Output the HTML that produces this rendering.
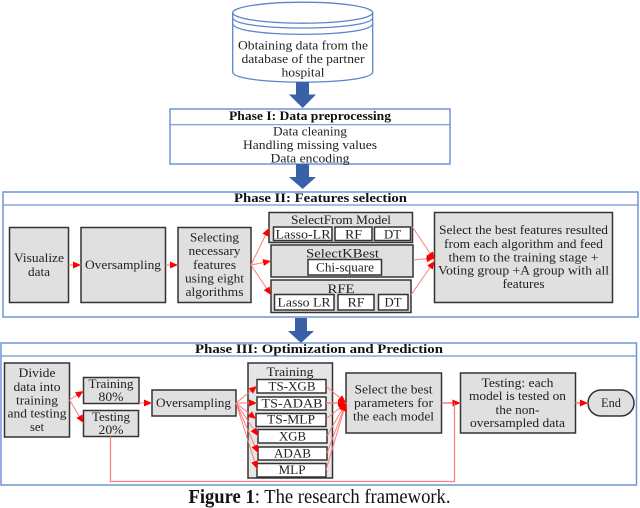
<!DOCTYPE html>
<html><head><meta charset="utf-8"><style>
html,body{margin:0;padding:0;background:#fff;width:640px;height:508px;overflow:hidden}
svg{display:block;filter:blur(.35px)}
text{font-family:"Liberation Serif",serif;font-size:13px;fill:#222;text-anchor:middle}
.h{font-weight:bold;fill:#111}
.p{fill:#fff;stroke:#6f94d8;stroke-width:1.5}
.b{fill:#e0e0e0;stroke:#333;stroke-width:1.5}
.w{fill:#fff;stroke:#333;stroke-width:1.5}
.r{stroke:#ff7a7a;stroke-width:1;fill:none;marker-end:url(#m)}
.n{stroke:#ff7a7a;stroke-width:1;fill:none}
.a{fill:#3a60a8}
</style></head><body>
<svg width="640" height="508" viewBox="0 0 640 508" xmlns="http://www.w3.org/2000/svg">
<defs><marker id="m" markerUnits="userSpaceOnUse" markerWidth="9" markerHeight="8" refX="8" refY="3.5" orient="auto"><path d="M0,0 L8,3.5 L0,7 Z" fill="#f00"/></marker></defs>

<!-- database -->
<path d="M232.700,12.700 V72 C232.700,85.500 372.700,85.500 372.700,72 V12.700" fill="#fff" stroke="#5a84cc" stroke-width="1.300"/>
<ellipse cx="302.700" cy="12.700" rx="70" ry="10.500" fill="#fff" stroke="#5a84cc" stroke-width="1.300"/>
<path d="M232.700,17.500 C232.700,31.500 372.700,31.500 372.700,17.500 M232.700,23.500 C232.700,38 372.700,38 372.700,23.500" fill="none" stroke="#5a84cc" stroke-width="1.300"/>
<text x="303" y="49.700" textLength="130" lengthAdjust="spacingAndGlyphs">Obtaining data from the</text>
<text x="303" y="63" textLength="123" lengthAdjust="spacingAndGlyphs">database of the partner</text>
<text x="303" y="76.300" textLength="43" lengthAdjust="spacingAndGlyphs">hospital</text>

<path class="a" d="M296,82 H309 V94.500 H316 L302.700,108 L289,94.500 H296 Z"/>

<!-- phase I -->
<rect class="p" x="170" y="109" width="280" height="55"/>
<path d="M170,124.700 H450" stroke="#6f94d8" stroke-width="1.200"/>
<text class="h" x="310" y="120" textLength="162" lengthAdjust="spacingAndGlyphs">Phase I: Data preprocessing</text>
<text x="310" y="135.700" textLength="74" lengthAdjust="spacingAndGlyphs">Data cleaning</text>
<text x="310" y="149" textLength="134" lengthAdjust="spacingAndGlyphs">Handling missing values</text>
<text x="310" y="162.300" textLength="79" lengthAdjust="spacingAndGlyphs">Data encoding</text>

<path class="a" d="M296,164 H309 V177 H316 L302.700,189 L289,177 H296 Z"/>

<!-- phase II -->
<rect class="p" x="3" y="192" width="635" height="125"/>
<path d="M3,205 H638" stroke="#6f94d8" stroke-width="1.200"/>
<text class="h" x="320.500" y="202" textLength="173" lengthAdjust="spacingAndGlyphs">Phase II: Features selection</text>

<rect class="b" x="9.500" y="227.500" width="59" height="75"/>
<text x="39" y="262" textLength="50" lengthAdjust="spacingAndGlyphs">Visualize</text>
<text x="39" y="276" textLength="22" lengthAdjust="spacingAndGlyphs">data</text>
<rect class="b" x="81" y="227.500" width="84.500" height="75"/>
<text x="123" y="269" textLength="76" lengthAdjust="spacingAndGlyphs">Oversampling</text>
<rect class="b" x="178" y="227.500" width="73" height="75"/>
<text x="214.500" y="241.500" textLength="49" lengthAdjust="spacingAndGlyphs">Selecting</text>
<text x="214.500" y="255" textLength="52" lengthAdjust="spacingAndGlyphs">necessary</text>
<text x="214.500" y="269" textLength="43" lengthAdjust="spacingAndGlyphs">features</text>
<text x="214.500" y="282.500" textLength="59" lengthAdjust="spacingAndGlyphs">using eight</text>
<text x="214.500" y="296" textLength="58" lengthAdjust="spacingAndGlyphs">algorithms</text>

<rect class="b" x="269" y="212.500" width="143.500" height="30"/>
<text x="341" y="224" textLength="100" lengthAdjust="spacingAndGlyphs">SelectFrom Model</text>
<rect class="w" x="273.500" y="227" width="58.500" height="13.500"/>
<rect class="w" x="335" y="227" width="37" height="13.500"/>
<rect class="w" x="374.500" y="227" width="36" height="13.500"/>
<text x="303" y="238.500" textLength="55" lengthAdjust="spacingAndGlyphs">Lasso-LR</text>
<text x="353.500" y="238.500" textLength="17" lengthAdjust="spacingAndGlyphs">RF</text>
<text x="392.500" y="238.500" textLength="17" lengthAdjust="spacingAndGlyphs">DT</text>

<rect class="b" x="271" y="245" width="142" height="32"/>
<text x="342.500" y="257.500" textLength="73" lengthAdjust="spacingAndGlyphs">SelectKBest</text>
<rect class="w" x="308" y="259.500" width="73.500" height="15.500"/>
<text x="345" y="271.500" textLength="58" lengthAdjust="spacingAndGlyphs">Chi-square</text>

<rect class="b" x="271" y="280" width="140" height="32.500"/>
<text x="341" y="293" textLength="27" lengthAdjust="spacingAndGlyphs">RFE</text>
<rect class="w" x="274.500" y="294.500" width="59.500" height="15.500"/>
<rect class="w" x="338" y="294.500" width="36" height="15.500"/>
<rect class="w" x="378.500" y="294.500" width="29.500" height="15.500"/>
<text x="304" y="306.500" textLength="53" lengthAdjust="spacingAndGlyphs">Lasso LR</text>
<text x="356" y="306.500" textLength="17" lengthAdjust="spacingAndGlyphs">RF</text>
<text x="393" y="306.500" textLength="17" lengthAdjust="spacingAndGlyphs">DT</text>

<rect class="b" x="434.500" y="212.500" width="178" height="90"/>
<text x="523.500" y="234" textLength="169" lengthAdjust="spacingAndGlyphs">Select the best features resulted</text>
<text x="523.500" y="248" textLength="159" lengthAdjust="spacingAndGlyphs">from each algorithm and feed</text>
<text x="523.500" y="261.500" textLength="150" lengthAdjust="spacingAndGlyphs">them to the training stage  +</text>
<text x="523.500" y="274.500" textLength="171" lengthAdjust="spacingAndGlyphs">Voting group +A  group with all</text>
<text x="523.500" y="288" textLength="42" lengthAdjust="spacingAndGlyphs">features</text>

<path class="r" d="M68.500,265 H81"/>
<path class="r" d="M165.500,265 H178"/>
<path class="r" d="M251,265 L269,228"/>
<path class="r" d="M251,265 L271,261"/>
<path class="r" d="M251,265 L271,295"/>
<path class="r" d="M412.500,227 L434.500,260"/>
<path class="r" d="M413,260 L434.500,258"/>
<path class="r" d="M411,295 L434.500,261"/>

<path class="a" d="M295,318 H307 V331 H314 L301,343 L288,331 H295 Z"/>

<!-- phase III -->
<rect class="p" x="1" y="343" width="635.500" height="142"/>
<path d="M1,356 H636" stroke="#6f94d8" stroke-width="1.200"/>
<text class="h" x="319" y="353" textLength="248" lengthAdjust="spacingAndGlyphs">Phase III: Optimization and Prediction</text>

<rect class="b" x="4.500" y="363" width="65" height="74"/>
<text x="37" y="377" textLength="37" lengthAdjust="spacingAndGlyphs">Divide</text>
<text x="37" y="391" textLength="47" lengthAdjust="spacingAndGlyphs">data into</text>
<text x="37" y="404.500" textLength="42" lengthAdjust="spacingAndGlyphs">training</text>
<text x="37" y="417.500" textLength="59" lengthAdjust="spacingAndGlyphs">and testing</text>
<text x="37" y="431" textLength="14" lengthAdjust="spacingAndGlyphs">set</text>

<rect class="b" x="83.500" y="377.500" width="55.500" height="26"/>
<text x="111" y="388" textLength="45" lengthAdjust="spacingAndGlyphs">Training</text>
<text x="111" y="401" textLength="25" lengthAdjust="spacingAndGlyphs">80%</text>
<rect class="b" x="83.500" y="410.500" width="55" height="26"/>
<text x="111" y="421" textLength="38" lengthAdjust="spacingAndGlyphs">Testing</text>
<text x="111" y="434" textLength="25" lengthAdjust="spacingAndGlyphs">20%</text>

<rect class="b" x="152" y="390" width="84" height="26"/>
<text x="193.500" y="407" textLength="75" lengthAdjust="spacingAndGlyphs">Oversampling</text>

<rect class="b" x="248" y="363" width="84.500" height="115" style="fill:#e6e6e6"/>
<text x="290" y="376" textLength="47" lengthAdjust="spacingAndGlyphs">Training</text>
<rect class="w" x="257" y="379.500" width="69" height="13.500"/>
<rect class="w" x="257" y="397" width="69" height="13"/>
<rect class="w" x="256" y="413.500" width="70" height="13"/>
<rect class="w" x="258" y="429.500" width="69" height="13.500"/>
<rect class="w" x="258" y="447" width="69" height="13"/>
<rect class="w" x="257" y="463.500" width="69" height="13.500"/>
<text x="292" y="390.500" textLength="47" lengthAdjust="spacingAndGlyphs">TS-XGB</text>
<text x="292" y="407.500" textLength="61" lengthAdjust="spacingAndGlyphs">TS-ADAB</text>
<text x="291" y="423.500" textLength="48" lengthAdjust="spacingAndGlyphs">TS-MLP</text>
<text x="292.500" y="440.500" textLength="27" lengthAdjust="spacingAndGlyphs">XGB</text>
<text x="292.500" y="457.500" textLength="37" lengthAdjust="spacingAndGlyphs">ADAB</text>
<text x="292" y="474" textLength="27" lengthAdjust="spacingAndGlyphs">MLP</text>

<rect class="b" x="346" y="373" width="95.500" height="60"/>
<text x="393.500" y="393.500" textLength="78" lengthAdjust="spacingAndGlyphs">Select the best</text>
<text x="393.500" y="407" textLength="79" lengthAdjust="spacingAndGlyphs">parameters for</text>
<text x="393.500" y="420.500" textLength="81" lengthAdjust="spacingAndGlyphs">the each model</text>

<rect class="b" x="460.500" y="373" width="115" height="60"/>
<text x="517.500" y="387" textLength="72" lengthAdjust="spacingAndGlyphs">Testing: each</text>
<text x="517.500" y="400" textLength="97" lengthAdjust="spacingAndGlyphs">model is tested on</text>
<text x="517.500" y="414" textLength="44" lengthAdjust="spacingAndGlyphs">the non-</text>
<text x="517.500" y="427" textLength="95" lengthAdjust="spacingAndGlyphs">oversampled data</text>

<rect class="b" x="588" y="390" width="46" height="26" rx="13"/>
<text x="611" y="407" textLength="20" lengthAdjust="spacingAndGlyphs">End</text>

<path class="r" d="M69.500,400 L83.500,391"/>
<path class="r" d="M69.500,400 L83.500,423"/>
<path class="r" d="M139,403 H152"/>
<path class="r" d="M236,403 L257,386"/>
<path class="r" d="M236,403 L257,403"/>
<path class="r" d="M236,403 L256,419"/>
<path class="r" d="M236,403 L258,436"/>
<path class="r" d="M236,403 L258,453"/>
<path class="r" d="M236,403 L257,469"/>
<path class="r" d="M326,386 L346,403"/>
<path class="r" d="M326,403 H346" style="stroke-width:1.500"/>
<path class="r" d="M326,419 L346,403"/>
<path class="r" d="M327,436 L346,403"/>
<path class="r" d="M327,453 L346,403"/>
<path class="r" d="M326,470 L346,403"/>
<path class="r" d="M441.500,403 H460.500" style="stroke-width:1.500"/>
<path class="r" d="M575.500,403 H588" style="stroke-width:1.500"/>
<path class="n" d="M110.500,436.500 V481.500 H454.500 V403" style="stroke-width:1.200"/>

<text x="319.500" y="503" style="font-size:19.500px;fill:#111" textLength="262" lengthAdjust="spacingAndGlyphs"><tspan font-weight="bold">Figure 1</tspan>: The research framework.</text>
</svg>
</body></html>
